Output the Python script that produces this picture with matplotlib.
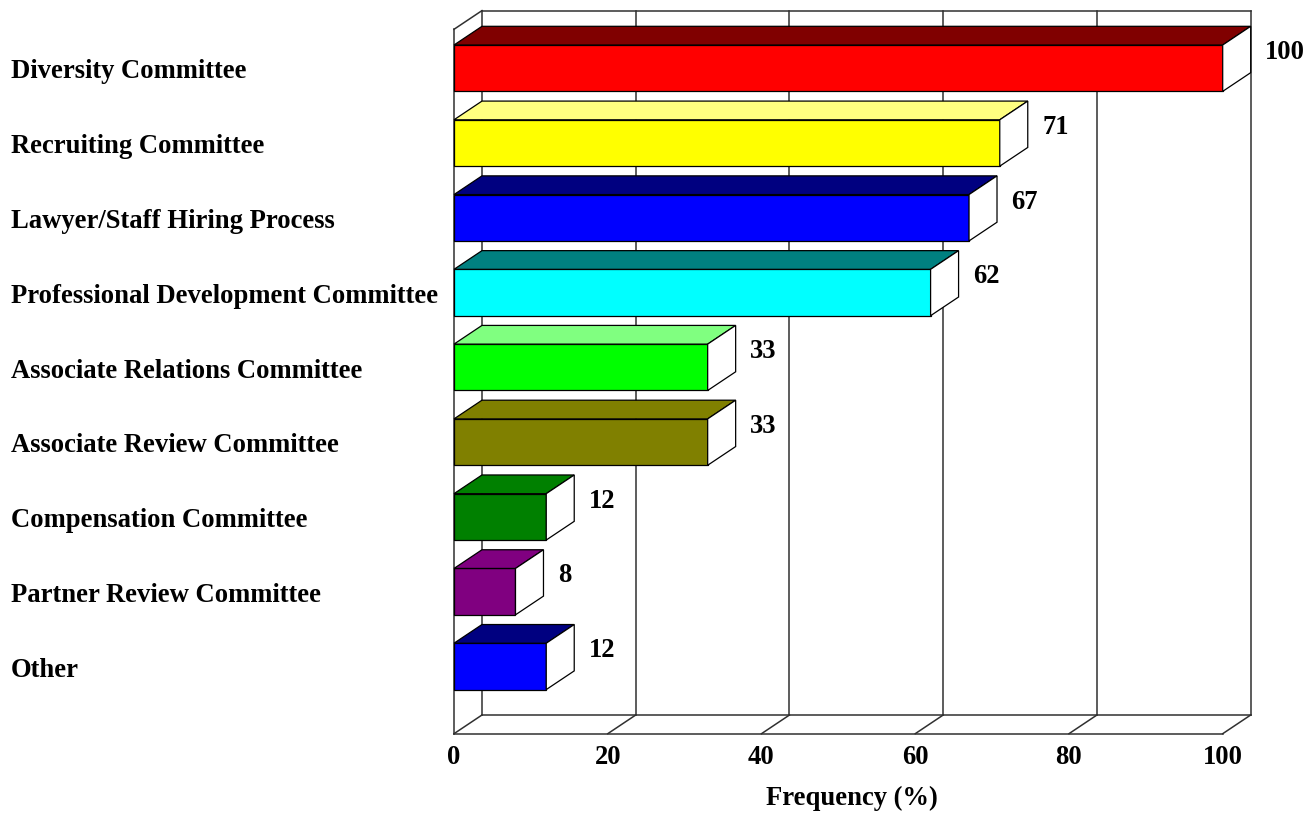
import matplotlib
matplotlib.use("Agg")
import matplotlib.pyplot as plt
import matplotlib.patches as mpatches
import matplotlib.transforms as mtransforms

# Данные
categories = [
    "Diversity Committee",
    "Recruiting Committee",
    "Lawyer/Staff Hiring Process",
    "Professional Development Committee",
    "Associate Relations Committee",
    "Associate Review Committee",
    "Compensation Committee",
    "Partner Review Committee",
    "Other",
]
values = [100, 71, 67, 62, 33, 33, 12, 8, 12]
front_colors = ["#FF0000", "#FFFF00", "#0000FF", "#00FFFF", "#00FF00",
                "#808000", "#008000", "#800080", "#0000FF"]
top_colors = ["#800000", "#FFFF80", "#000080", "#008080", "#80FF80",
              "#808000", "#008000", "#800080", "#000080"]
x_ticks = [0, 20, 40, 60, 80, 100]
x_label = "Frequency (%)"

# Геометрия псевдо-3D
DX = 3.64      # сдвиг глубины по оси значений
DY = -0.25     # сдвиг глубины по оси категорий
HALF = 0.31    # половина высоты полосы
Y_TOP, Y_FLOOR = -0.52, 8.9
X_MAX = 100
FS = 19.2

plt.rcParams['font.family'] = ['Liberation Serif', 'DejaVu Serif']
plt.rcParams['font.weight'] = 'bold'

fig = plt.figure(figsize=(13.15, 8.13), dpi=100)
ax = fig.add_axes([454 / 1315, (813 - 733.7) / 813, 768.7 / 1315, 704.4 / 813])
ax.set_xlim(0, X_MAX)
ax.set_ylim(Y_FLOOR, Y_TOP)
ax.axis('off')

wall_kw = dict(color='#303030', lw=1.1, clip_on=False, zorder=1)

# Задняя стенка и сетка
ax.plot([DX, X_MAX + DX], [Y_TOP + DY, Y_TOP + DY], **wall_kw)
ax.plot([DX, X_MAX + DX], [Y_FLOOR + DY, Y_FLOOR + DY], **wall_kw)
for t in x_ticks:
    ax.plot([t + DX, t + DX], [Y_TOP + DY, Y_FLOOR + DY], **wall_kw)
    # линии на полу
    ax.plot([t, t + DX], [Y_FLOOR, Y_FLOOR + DY], **wall_kw)

# Левая стенка и пол
ax.plot([0, 0], [Y_TOP, Y_FLOOR], **wall_kw)
ax.plot([0, DX], [Y_TOP, Y_TOP + DY], **wall_kw)
ax.plot([0, X_MAX], [Y_FLOOR, Y_FLOOR], **wall_kw)

# Полосы
edge_kw = dict(edgecolor='black', lw=0.9, clip_on=False, zorder=3)
for i, (v, fc, tc) in enumerate(zip(values, front_colors, top_colors)):
    y0, y1 = i - HALF, i + HALF
    ax.add_patch(mpatches.Rectangle((0, y0), v, y1 - y0, facecolor=fc, **edge_kw))
    ax.add_patch(mpatches.Polygon(
        [(0, y0), (v, y0), (v + DX, y0 + DY), (DX, y0 + DY)],
        closed=True, facecolor=tc, **edge_kw))
    ax.add_patch(mpatches.Polygon(
        [(v, y0), (v, y1), (v + DX, y1 + DY), (v + DX, y0 + DY)],
        closed=True, facecolor='white', **edge_kw))
    ax.text(v + DX + 1.9, y0 + 0.1, str(v), fontsize=FS, fontweight='bold',
            ha='left', va='center', zorder=4)

# Подписи категорий
label_tr = mtransforms.blended_transform_factory(fig.transFigure, ax.transData)
for i, name in enumerate(categories):
    ax.text(11 / 1315, i + 0.05, name, transform=label_tr, fontsize=FS,
            fontweight='bold', ha='left', va='center')

# Подписи оси
for t in x_ticks:
    ax.text(t, 9.22, str(t), fontsize=FS, fontweight='bold',
            ha='center', va='center')
ax.text(50 + DX / 2, 9.77, x_label, fontsize=FS, fontweight='bold',
        ha='center', va='center')

fig.savefig("out.png", dpi=100, facecolor='white')
